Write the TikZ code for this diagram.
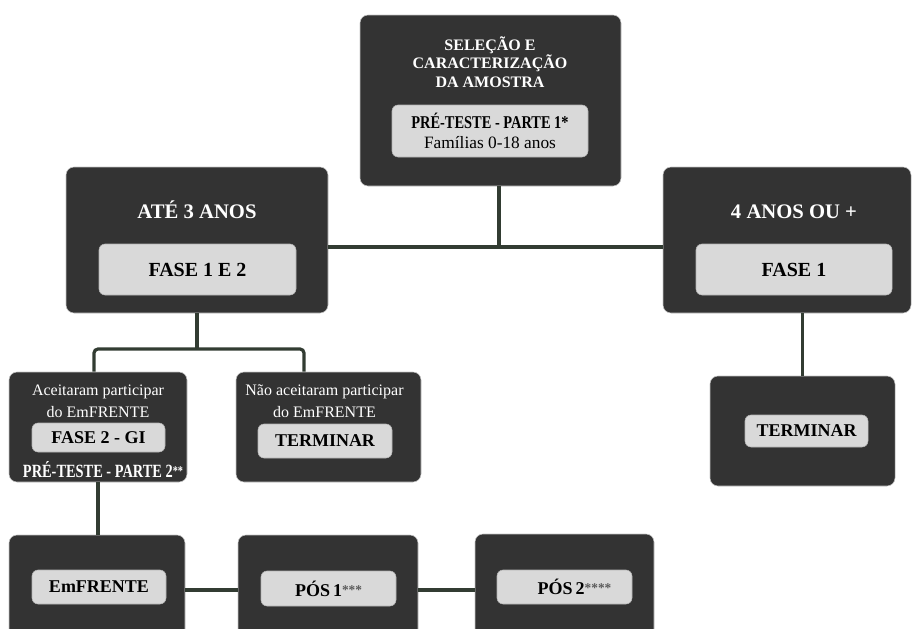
\documentclass[tikz,border=0pt]{standalone}
\usepackage{fontspec}
\setmainfont{Liberation Serif}
\usepackage{graphicx}
\usetikzlibrary{calc}
\definecolor{boxdark}{HTML}{333333}
\definecolor{boxlight}{HTML}{D9D9D9}
\definecolor{linkgreen}{HTML}{323C32}
\newcommand{\stars}[1]{\raisebox{1.5pt}{\fontsize{10}{10}\selectfont\color{black!65}#1}}

\begin{document}
\begin{tikzpicture}[
  x=0.75pt,y=-0.75pt,
  outer/.style={draw=gray!45,line width=0.4pt,fill=boxdark,rounded corners=6pt},
  inner/.style={draw=gray!60,line width=0.4pt,fill=boxlight,rounded corners=4.5pt,
                align=center,font=\bfseries\fontsize{13.5}{16}\selectfont},
  title/.style={text=white,align=center,font=\bfseries\fontsize{15.5}{18}\selectfont},
  small/.style={text=white,align=center,font=\fontsize{12}{16.5}\selectfont},
  link/.style={draw=linkgreen,line width=2.4pt}
]
\useasboundingbox (0,0) rectangle (912,628);
\clip (0,0) rectangle (912,628);

\node[outer,minimum width=195.75pt,minimum height=128.25pt] (amo) at (490.5,100.5) {};
\node[title,font=\bfseries\fontsize{12}{14}\selectfont] (amot) at (490,62)
  {SELEÇÃO E\\CARACTERIZAÇÃO\\DA AMOSTRA};
\node[inner,minimum width=147pt,minimum height=39pt] (amoi) at (490,131)
  {\scalebox{0.8}[1]{PRÉ-TESTE - PARTE 1*}\\[-1pt]{\mdseries\fontsize{13}{15}\selectfont Famílias 0-18 anos}};

\node[outer,minimum width=196.5pt,minimum height=109.5pt] (ate) at (197,240) {};
\node[title] (atet) at (197,210) {ATÉ 3 ANOS};
\node[inner,minimum width=147.75pt,minimum height=38.25pt,
      font=\bfseries\fontsize{15}{18}\selectfont] (atei) at (197.5,269.5) {FASE 1 E 2};

\node[outer,minimum width=186pt,minimum height=109.5pt] (qua) at (787,240) {};
\node[title] (quat) at (794,212) {4 ANOS OU +};
\node[inner,minimum width=147pt,minimum height=38.25pt,
      font=\bfseries\fontsize{15}{18}\selectfont] (quai) at (794,269.5) {FASE 1};

\node[outer,minimum width=133.5pt,minimum height=82.5pt] (ace) at (98,427) {};
\node[small] (acet) at (98,401) {Aceitaram participar\\do EmFRENTE};
\node[inner,minimum width=99.75pt,minimum height=21.75pt] (acei) at (98.5,437.5) {FASE 2 - GI};
\node[text=white,font=\bfseries\fontsize{14}{16}\selectfont] (acep) at (103,470)
  {\scalebox{0.77}[1]{PRÉ-TESTE - PARTE 2\raisebox{1.5pt}{\fontsize{10}{10}\selectfont**}}};

\node[outer,minimum width=138.75pt,minimum height=82.5pt] (nao) at (328.5,427) {};
\node[small] (naot) at (324.5,401) {Não aceitaram participar\\do EmFRENTE};
\node[inner,minimum width=100.5pt,minimum height=25.5pt] (naoi) at (325,441) {TERMINAR};

\node[outer,minimum width=138.75pt,minimum height=82.5pt] (ter) at (802.5,431) {};
\node[inner,minimum width=92.25pt,minimum height=24pt] (teri) at (806.5,431) {TERMINAR};

\node[outer,minimum width=132pt,minimum height=82.5pt] (emf) at (97,590) {};
\node[inner,minimum width=100.5pt,minimum height=25.5pt] (emfi) at (99,587) {EmFRENTE};

\node[outer,minimum width=135pt,minimum height=82.5pt] (pa) at (328,590) {};
\node[inner,minimum width=101.25pt,minimum height=26.25pt] (pai) at (328.5,588.5)
  {PÓS\,1\stars{***}};

\node[outer,minimum width=134.25pt,minimum height=82.5pt] (pb) at (564.5,589) {};
\node[inner,minimum width=101.25pt,minimum height=25.5pt] (pbi) at (564.5,587)
  {\hspace*{15pt}PÓS\,2\stars{****}};

\coordinate (jn) at (499,247);
\draw[link] (amo.south -| jn) -- (jn);
\draw[link] (ate.east |- jn) -- (qua.west |- jn);
\coordinate (sp) at (197,349);
\draw[link] (ate.south) -- (sp);
\draw[link,rounded corners=3pt] ($(ace.north)+(-4,0)$) |- (sp) -| ($(nao.north)+(-24.5,0)$);
\draw[link] (ter.north) -- (ter.north |- qua.south);
\draw[link] (ace.south) -- (ace.south |- emf.north);
\draw[link] (emf.east) -- (pa.west);
\draw[link] (pa.east) -- (pa.east -| pb.west);
\end{tikzpicture}
\end{document}
